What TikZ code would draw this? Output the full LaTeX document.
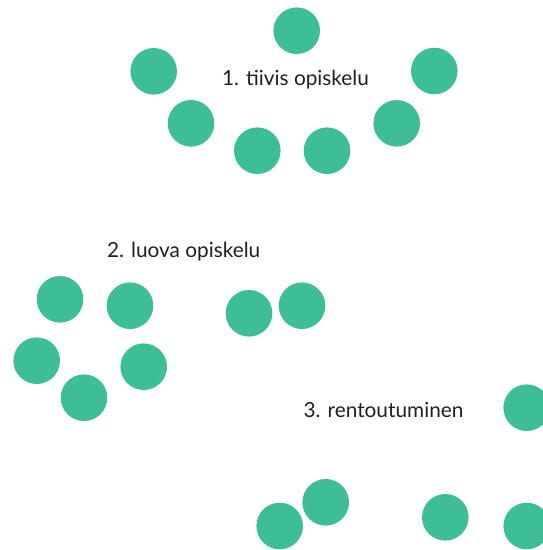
\documentclass[tikz,border=0pt]{standalone}
\usepackage{fontspec}
\setmainfont{Lato}
\usepackage{tikz}
\definecolor{DotGreen}{RGB}{61,190,150}
\definecolor{LabelGray}{RGB}{35,31,32}
\tikzset{
  dot/.style={circle,fill=DotGreen,inner sep=0pt,minimum size=46.6pt},
  grouplabel/.style={anchor=base,text=LabelGray,font=\fontsize{20.8}{24}\selectfont}
}

\begin{document}
\begin{tikzpicture}[x=1pt,y=-1pt]
  \useasboundingbox (0,0) rectangle (543,550);
  \clip (0,0) rectangle (543,550);
  % 1. tiivis opiskelu
  \node[grouplabel] (label1) at (295.5,85.7) {1. tiivis opiskelu};
  \foreach \name/\x/\y in {a1/296.7/30.7, a2/153.7/71.3, a3/434.3/71,
      a4/191/123.3, a5/396.7/123.3, a6/257.3/150.7, a7/327/150.7}
    \node[dot] (\name) at (\x,\y) {};
  % 2. luova opiskelu
  \node[grouplabel] (label2) at (183.7,257.3) {2. luova opiskelu};
  \foreach \name/\x/\y in {b1/60/299.3, b2/130/305.7, b3/36.7/360.7,
      b4/143.7/366.7, b5/84/397.7, b6/249/313.3, b7/302/305.7}
    \node[dot] (\name) at (\x,\y) {};
  % 3. rentoutuminen
  \node[grouplabel] (label3) at (383.5,417.3) {3. rentoutuminen};
  \foreach \name/\x/\y in {c1/526.7/407.7, c2/279.7/526, c3/325.7/502.3,
      c4/445.3/517.3, c5/526.7/526}
    \node[dot] (\name) at (\x,\y) {};
\end{tikzpicture}
\end{document}
